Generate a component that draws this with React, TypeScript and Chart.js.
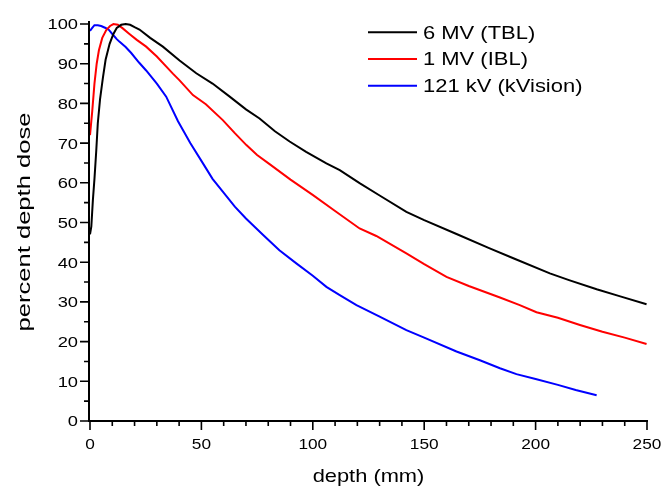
import { useEffect, useRef } from "react";
import { Chart, registerables } from "chart.js";

Chart.register(...registerables);

// ---- data ----
const tblDepth = [0, 0.6, 1.3, 2, 2.8, 3.5, 4.5, 5.8, 7, 8.8, 10.5, 12, 14, 16, 18, 20, 22.2, 27, 32.7, 40.2, 47.7, 55, 62.7, 70, 76.1, 83, 89.6, 97, 106.1, 112.1, 121, 130, 142, 150, 164.5, 179.4, 190, 206.4, 215, 227.4, 238, 249.8];
const tblDose = [47, 49, 55.7, 61, 68, 75, 81, 86.5, 91, 95, 97.5, 99, 99.8, 100, 99.8, 99.2, 98.6, 96.5, 94.3, 90.8, 87.6, 85, 81.7, 78.5, 76.2, 73, 70.4, 67.8, 64.9, 63.2, 59.9, 56.8, 52.7, 50.6, 47.1, 43.5, 41, 37.2, 35.5, 33.2, 31.4, 29.4];

const iblDepth = [0, 1, 2, 3, 4, 5.5, 7.3, 9, 10.5, 12.5, 14.7, 17.7, 21, 25.2, 30, 37.2, 40.2, 46.2, 52, 59.6, 65, 70.2, 75, 80.6, 90, 100.1, 110, 121, 128.5, 142, 150, 160, 170, 184, 192.9, 200.4, 210, 219.9, 230, 240, 249.8];
const iblDose = [72, 78, 85, 90, 93.4, 96.5, 98.5, 99.5, 100, 99.8, 98.9, 97.5, 96, 94.3, 91.8, 87.5, 85.8, 82.1, 79.8, 75.8, 72.5, 69.5, 67, 64.7, 60.8, 56.9, 52.9, 48.5, 46.6, 42.2, 39.5, 36.3, 34, 31.1, 29.2, 27.4, 26, 24.2, 22.5, 21, 19.4];

const kvDepth = [0, 1, 2, 3.5, 5, 7, 8.5, 10.3, 12, 13.3, 16, 18.5, 22, 25.2, 30, 34.2, 39.5, 45, 50.7, 55, 59.6, 65, 70, 77.6, 85, 92.6, 100, 106.1, 112.1, 119.6, 130, 142, 150, 164.5, 175, 184, 191.4, 200, 210, 218, 227.4];
const kvDose = [98.3, 99, 99.7, 99.7, 99.5, 99, 98.5, 97.3, 96.2, 95.5, 94.2, 92.7, 90.3, 88.3, 85, 81.7, 75.5, 70, 64.9, 61, 57.8, 54, 51, 46.9, 43, 39.7, 36.6, 33.8, 31.7, 29.2, 26.3, 22.9, 21, 17.5, 15.3, 13.3, 11.8, 10.6, 9.1, 7.8, 6.5];

const seriesLabels = ["6 MV (TBL)", "1 MV (IBL)", "121 kV (kVision)"];
const seriesColors = ["#000000", "#ff0000", "#0000ff"];

const xMajorTicks = [0, 50, 100, 150, 200, 250];
const xMinorTicks = [10, 20, 30, 40, 60, 70, 80, 90, 110, 120, 130, 140, 160, 170, 180, 190, 210, 220, 230, 240];
const yMajorTicks = [0, 10, 20, 30, 40, 50, 60, 70, 80, 90, 100];
const yMinorTicks = [5, 15, 25, 35, 45, 55, 65, 75, 85, 95];

const xTitle = "depth (mm)";
const yTitle = "percent depth dose";

const FONT = '"Liberation Sans", Arial, sans-serif';

function stext(
  ctx: CanvasRenderingContext2D,
  text: string,
  x: number,
  y: number,
  size: number,
  align: CanvasTextAlign,
  sx: number,
  rot = 0
) {
  ctx.save();
  ctx.translate(x, y);
  if (rot) ctx.rotate(rot);
  ctx.scale(sx, 1);
  ctx.font = `${size}px ${FONT}`;
  ctx.textAlign = align;
  ctx.textBaseline = "alphabetic";
  ctx.fillStyle = "#000";
  ctx.fillText(text, 0, 0);
  ctx.restore();
}

const axesPlugin = {
  id: "customAxes",
  afterDraw(chart: any) {
    const ctx: CanvasRenderingContext2D = chart.ctx;
    const xs = chart.scales.x;
    const ys = chart.scales.y;
    const area = chart.chartArea;
    const axX = area.left - 1;
    const axY = area.bottom;
    ctx.save();
    ctx.strokeStyle = "#000";
    ctx.lineWidth = 2;
    ctx.lineCap = "butt";
    // axis lines
    ctx.beginPath();
    ctx.moveTo(axX, area.top);
    ctx.lineTo(axX, axY + 1);
    ctx.moveTo(axX - 1, axY);
    ctx.lineTo(area.right + 1, axY);
    ctx.stroke();
    ctx.lineWidth = 1.6;
    ctx.beginPath();
    for (const v of xMajorTicks) {
      const px = xs.getPixelForValue(v);
      ctx.moveTo(px, axY);
      ctx.lineTo(px, axY + 9);
    }
    for (const v of xMinorTicks) {
      const px = xs.getPixelForValue(v);
      ctx.moveTo(px, axY);
      ctx.lineTo(px, axY + 5);
    }
    for (const v of yMajorTicks) {
      const py = ys.getPixelForValue(v);
      ctx.moveTo(axX, py);
      ctx.lineTo(axX - 9, py);
    }
    for (const v of yMinorTicks) {
      const py = ys.getPixelForValue(v);
      ctx.moveTo(axX, py);
      ctx.lineTo(axX - 5, py);
    }
    ctx.stroke();
    ctx.restore();

    // tick labels
    for (const v of xMajorTicks) {
      stext(ctx, String(v), xs.getPixelForValue(v), axY + 28, 15, "center", 1.15);
    }
    for (const v of yMajorTicks) {
      stext(ctx, String(v), axX - 11, ys.getPixelForValue(v) + 5.4, 15, "right", 1.22);
    }
    // titles
    stext(ctx, xTitle, (area.left + area.right) / 2, 482, 19, "center", 1.15);
    stext(ctx, yTitle, 30, 222, 18, "center", 1.42, -Math.PI / 2);

    // legend
    const rows = [32.3, 59, 85.7];
    rows.forEach((ry, i) => {
      ctx.save();
      ctx.strokeStyle = seriesColors[i];
      ctx.lineWidth = 2;
      ctx.beginPath();
      ctx.moveTo(368, ry);
      ctx.lineTo(417, ry);
      ctx.stroke();
      ctx.restore();
      stext(ctx, seriesLabels[i], 423, ry + 6.4, 18, "left", 1.22);
    });
  },
};

export default function App() {
  const ref = useRef<HTMLCanvasElement>(null);
  useEffect(() => {
    document.body.style.margin = "0";
    const canvas = ref.current!;
    const mk = (xs: number[], ys: number[]) => xs.map((x, i) => ({ x, y: ys[i] }));
    const chart = new Chart(canvas, {
      type: "line",
      data: {
        datasets: [
          { label: seriesLabels[0], data: mk(tblDepth, tblDose), borderColor: seriesColors[0] },
          { label: seriesLabels[1], data: mk(iblDepth, iblDose), borderColor: seriesColors[1] },
          { label: seriesLabels[2], data: mk(kvDepth, kvDose), borderColor: seriesColors[2] },
        ].map((d) => ({
          ...d,
          borderWidth: 2,
          pointRadius: 0,
          tension: 0,
          fill: false,
          clip: false as any,
        })),
      },
      options: {
        animation: false,
        responsive: false,
        devicePixelRatio: 1,
        layout: { padding: { top: 21, right: 15, left: 0, bottom: 0 } },
        plugins: { legend: { display: false }, tooltip: { enabled: false }, title: { display: false } },
        scales: {
          x: {
            type: "linear",
            min: 0,
            max: 250,
            grid: { display: false },
            border: { display: false },
            ticks: { display: false },
            afterFit: (s: any) => {
              s.height = 67;
            },
          },
          y: {
            type: "linear",
            min: 0,
            max: 100.76,
            grid: { display: false },
            border: { display: false },
            ticks: { display: false },
            afterFit: (s: any) => {
              s.width = 90;
            },
          },
        },
      },
      plugins: [axesPlugin],
    });
    return () => chart.destroy();
  }, []);
  return (
    <div style={{ width: 662, height: 488 }}>
      <canvas ref={ref} width={662} height={488} style={{ display: "block" }} />
    </div>
  );
}
